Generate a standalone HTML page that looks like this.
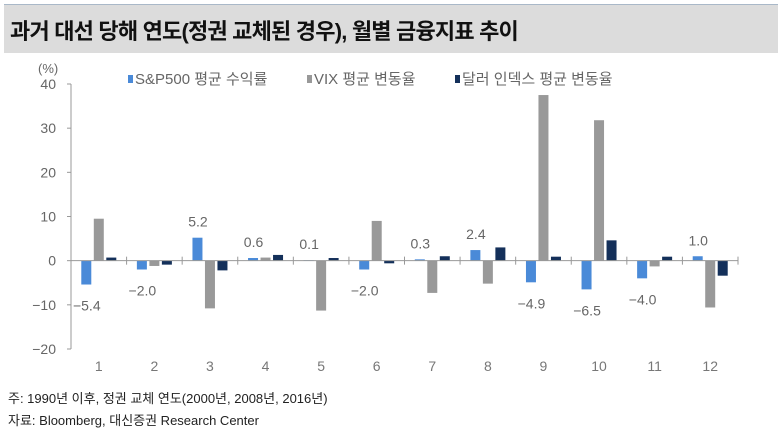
<!DOCTYPE html>
<html><head><meta charset="utf-8"><style>
body{margin:0;width:780px;height:430px;background:#fff;font-family:"Liberation Sans","Noto Sans CJK KR",sans-serif;overflow:hidden;position:relative}
.title{position:absolute;left:4px;top:4px;width:774px;height:48px;background:#dcdcdc;border-top:1px solid #a9b8c8}
.title span{position:absolute;left:6px;top:9px;font-size:22px;font-weight:bold;color:#111;letter-spacing:-0.8px}
.foot{position:absolute;left:8px;font-size:13px;color:#222}
</style></head><body>
<div class="title"><span>과거 대선 당해 연도(정권 교체된 경우), 월별 금융지표 추이</span></div>
<svg id="chart" width="780" height="430" style="position:absolute;left:0;top:0"></svg>
<div class="foot" style="top:388px">주: 1990년 이후, 정권 교체 연도(2000년, 2008년, 2016년)</div>
<div class="foot" style="top:410px">자료: Bloomberg, 대신증권 Research Center</div>
<script>
const categories=["1","2","3","4","5","6","7","8","9","10","11","12"];
const spValues=[-5.4,-2.0,5.2,0.6,0.1,-2.0,0.3,2.4,-4.9,-6.5,-4.0,1.0];
const vixValues=[9.5,-1.2,-10.8,0.7,-11.3,9.0,-7.3,-5.2,37.5,31.8,-1.3,-10.6];
const dxyValues=[0.7,-0.9,-2.2,1.3,0.6,-0.6,1.0,3.0,0.9,4.6,0.9,-3.4];
const yTicks=[40,30,20,10,0,-10,-20];
const spLabels=["-5.4","-2.0","5.2","0.6","0.1","-2.0","0.3","2.4","-4.9","-6.5","-4.0","1.0"];
const svg=document.getElementById('chart');
const NS='http://www.w3.org/2000/svg';
const x0=71,x1=738,yTop=84,yBot=349,vmax=40,vmin=-20;
const y=v=>yTop+(vmax-v)/(vmax-vmin)*(yBot-yTop);
const bw=(x1-x0)/categories.length;
const cx=i=>x0+bw*(i+0.5);
function mk(t,a){const e=document.createElementNS(NS,t);for(const k in a)e.setAttribute(k,a[k]);svg.appendChild(e);return e;}
let e=mk('line',{x1:x0,y1:yTop,x2:x0,y2:yBot,stroke:'#999'});


yTicks.forEach(t=>{
 const tl=mk('line',{x1:x0-4,y1:y(t),x2:x0,y2:y(t),stroke:'#999'});
 
 
 const tx=mk('text',{x:x0-15,y:y(t)+5,'text-anchor':'end','font-size':14,fill:'#666'});
 tx.textContent=String(t).replace('-','−');
 
 
});
const u=mk('text',{x:38,y:73,'font-size':13,fill:'#666'});u.textContent='(%)';


const series=[[spValues,'#4a8ad8',-12.5,'sp500-bar'],[vixValues,'#999999',0,'vix-bar'],[dxyValues,'#14305a',12.5,'dollar-index-bar']];
categories.forEach((c,i)=>{
 series.forEach(([vals,col,off,nm])=>{
  const v=vals[i];const r=mk('rect',{x:cx(i)+off-5,y:Math.min(y(v),y(0)),width:10,height:Math.max(Math.abs(y(v)-y(0)),0.5),fill:col});
  
  
 });
 const lv=spValues[i];
 const lt=mk('text',{x:cx(i)-12,y:lv>=0?y(lv)-11:y(lv)+26,'text-anchor':'middle','font-size':14,fill:'#666'});
 lt.textContent=spLabels[i].replace('-','−');
 
 
 const xl=mk('text',{x:cx(i),y:371,'text-anchor':'middle','font-size':14,fill:'#777'});
 xl.textContent=c;
 
 
 const tk=mk('line',{x1:x0+bw*(i+1),y1:y(0)-4,x2:x0+bw*(i+1),y2:y(0)+4,stroke:'#999'});
 
 
});
e=mk('line',{x1:x0,y1:y(0),x2:x1,y2:y(0),stroke:'#999'});


const legend=[['S&P500 평균 수익률','#4a8ad8',128],['VIX 평균 변동율','#999999',307],['달러 인덱스 평균 변동율','#14305a',455]];
legend.forEach(([t,c,lx])=>{
 const s=mk('rect',{x:lx,y:75,width:5,height:8,fill:c});
 
 
 const tx=mk('text',{x:lx+7,y:84,'font-size':15,fill:'#666'});tx.textContent=t;
 
 
});
</script>
</body></html>
